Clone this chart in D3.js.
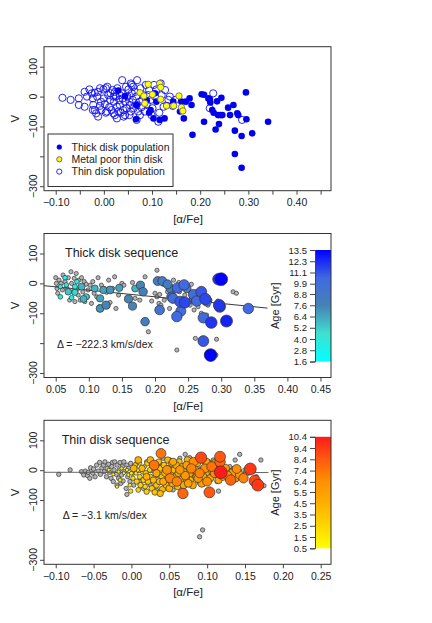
<!DOCTYPE html>
<html>
<head>
<meta charset="utf-8">
<script src="https://cdn.jsdelivr.net/npm/d3@7"></script>
<style>
  body { margin: 0; background: #fff; }
  svg { display: block; font-family: "Liberation Sans", Arial, sans-serif; }
</style>
</head>
<body>
<div id="chart"></div>
<script>
// ---- data: [alpha/Fe, V] or [alpha/Fe, V, age] ----
const thickDisk = [
  [0.030, 20], [0.044, 2], [0.068, -28], [0.067, -76], [0.089, -12], [0.094, -54], [0.097, -45],
  [0.103, -73], [0.106, 11], [0.109, -17], [0.116, -78], [0.126, -73], [0.130, -28], [0.144, -17],
  [0.158, -50], [0.161, -17], [0.166, -73], [0.170, -17], [0.178, -6], [0.182, -28], [0.184, -128],
  [0.203, 8], [0.208, 6], [0.208, -84], [0.217, -6], [0.220, -9], [0.221, -20], [0.225, -45],
  [0.228, -54], [0.232, -110], [0.235, -16], [0.237, -62], [0.239, -92], [0.244, -4], [0.242, -62],
  [0.246, -62], [0.258, -37], [0.262, -62], [0.269, -28], [0.272, -114], [0.272, -192], [0.277, -56],
  [0.279, -62], [0.286, -132], [0.286, -238], [0.295, 14], [0.296, -76], [0.308, -123], [0.341, -84]
];
const poorThinDisk = [
  [0.075, 13], [0.083, 2], [0.085, -23], [0.092, 41], [0.101, 7], [0.116, 44], [0.118, 31],
  [0.118, -9], [0.130, -31], [0.145, -31], [0.156, 2], [0.161, -36], [0.164, -48]
];
const thinDisk = [
  [-0.086, -4], [-0.069, -11], [-0.052, -6], [-0.052, -28], [-0.040, 16], [-0.030, 24], [-0.025, 11],
  [-0.023, -6], [-0.022, -28], [-0.019, -45], [-0.016, -56], [-0.014, 0], [-0.012, 16], [-0.008, -31],
  [-0.005, -45], [-0.001, 24], [0.000, -6], [0.002, -25], [0.004, -54], [0.007, 33], [0.009, 5],
  [0.011, -36], [0.013, -11], [0.016, -45], [0.018, 22], [0.020, -56], [0.021, -17], [0.023, -62],
  [0.025, 0], [0.027, -34], [0.028, 28], [0.030, -50], [0.032, -11], [0.033, -28], [0.037, 11],
  [0.038, 55], [0.040, -45], [0.041, -67], [0.044, -17], [0.046, 33], [0.047, -39], [0.049, 0],
  [0.051, 24], [0.053, -62], [0.054, -28], [0.056, -50], [0.058, 11], [0.060, -11], [0.061, 33],
  [0.062, -39], [0.065, 16], [0.067, 0], [0.069, 55], [0.071, -50], [0.074, -17], [0.076, 28],
  [0.078, -36], [0.082, 5], [0.085, -50], [0.087, 39], [0.089, -25], [0.094, 22], [0.097, -11],
  [0.101, -39], [0.104, 39], [0.106, 0], [0.109, 24], [0.113, -84], [0.115, -54], [0.118, 44],
  [0.120, 5], [0.124, -34], [0.127, 22], [0.134, -11], [0.137, 0], [0.143, -31], [0.148, -11],
  [0.227, 11], [0.220, -39], [0.287, -78], [-0.040, -34], [-0.035, 0], [-0.019, 13], [-0.012, -67],
  [-0.006, -17], [0.004, 28], [0.006, -50], [0.014, 11], [0.023, 16], [0.035, -54], [0.039, -6],
  [0.044, -62], [0.053, -17], [0.058, 39], [0.068, -28], [0.075, -62], [0.080, -11], [0.092, 5],
  [0.099, -62], [-0.023, -45], [-0.008, 28], [0.020, 0], [0.033, 5], [0.056, 44], [0.068, -78],
  [0.027, -73]
];

const thickSeqNoAge = [
  [0.050, 19], [0.051, 0], [0.052, -17], [0.053, -33], [0.055, 11], [0.058, 0], [0.060, -22],
  [0.061, 28], [0.064, 6], [0.067, -17], [0.069, 19], [0.071, -56], [0.073, 39], [0.074, 0],
  [0.076, -28], [0.078, 17], [0.079, -61], [0.081, 33], [0.083, -19], [0.084, -39], [0.085, 11],
  [0.087, -56], [0.088, -11], [0.089, 19], [0.091, -28], [0.093, 6], [0.094, -61], [0.096, -3],
  [0.098, -45], [0.099, -22], [0.102, -6], [0.104, -67], [0.106, 6], [0.108, -33], [0.112, -45],
  [0.114, 19], [0.116, -78], [0.119, -6], [0.123, -17], [0.127, -30], [0.130, 11], [0.132, -64],
  [0.136, -17], [0.139, 22], [0.141, -84], [0.145, -39], [0.147, -11], [0.150, 0], [0.153, -6],
  [0.166, 3], [0.170, -50], [0.177, -56], [0.185, 22], [0.190, -162], [0.195, -59], [0.200, -33],
  [0.203, 44], [0.203, -45], [0.206, -67], [0.207, -37], [0.209, -73], [0.212, -3], [0.214, -56],
  [0.219, -28], [0.222, -84], [0.223, -17], [0.227, -33], [0.228, 11], [0.233, -223], [0.236, 3],
  [0.237, -28], [0.241, -52], [0.242, -78], [0.245, -39], [0.248, -67], [0.250, -22], [0.253, -73],
  [0.255, -3], [0.257, -45], [0.259, -89], [0.261, -184], [0.263, -28], [0.265, -78], [0.268, -59],
  [0.270, -100], [0.272, -39], [0.275, -195], [0.278, -106], [0.280, -73], [0.283, -56],
  [0.292, -240], [0.293, -187], [0.295, -59], [0.300, -78], [0.318, -28], [0.323, -33]
];
const thickSeqAge = [
  [0.064, 19, 3.0], [0.057, -11, 2.5], [0.066, -5, 3.0], [0.069, -28, 5.5], [0.057, -45, 3.0],
  [0.074, -48, 3.0], [0.079, -11, 3.5], [0.079, -30, 5.0], [0.082, 6, 3.0], [0.089, -11, 6.0],
  [0.092, -52, 6.0], [0.096, -45, 5.0], [0.109, -17, 6.0], [0.117, -50, 6.5], [0.117, -84, 7.0],
  [0.122, -22, 6.5], [0.126, -73, 7.5], [0.128, -75, 4.0], [0.132, -22, 7.0], [0.146, -15, 6.5],
  [0.160, -52, 7.5], [0.166, -76, 7.5], [0.170, -17, 6.0], [0.178, -6, 7.5], [0.182, -28, 8.0],
  [0.185, -128, 8.0], [0.204, 8, 8.5], [0.207, -89, 9.5], [0.211, 8, 8.5], [0.219, -3, 8.5],
  [0.223, -17, 8.0], [0.225, -45, 9.5], [0.227, -50, 10.0], [0.233, -111, 10.5], [0.234, -15, 10.5],
  [0.238, -61, 11.0], [0.239, -93, 10.0], [0.244, -5, 10.5], [0.245, -64, 11.5], [0.248, -17, 8.0],
  [0.258, -37, 10.0], [0.259, -52, 9.5], [0.263, -59, 10.5], [0.270, -28, 11.0], [0.273, -115, 10.5],
  [0.273, -193, 11.0], [0.276, -52, 11.5], [0.278, -59, 10.0], [0.285, -131, 12.0], [0.284, -240, 13.5],
  [0.296, 14, 12.0], [0.300, 14, 13.5], [0.297, -73, 12.0], [0.298, -78, 11.5], [0.308, -126, 12.5],
  [0.341, -84, 10.5]
];

const thinSeqNoAge = [
  [-0.096, -14], [-0.081, 1], [-0.066, -5], [-0.063, -16], [-0.061, -3], [-0.058, -18], [-0.057, -7],
  [-0.055, -27], [-0.054, 8], [-0.051, -10], [-0.050, 4], [-0.048, -22], [-0.046, 17], [-0.044, -3],
  [-0.042, 26], [-0.041, -14], [-0.039, 8], [-0.037, 17], [-0.036, -5], [-0.035, 28], [-0.033, -22],
  [-0.032, 6], [-0.030, 20], [-0.029, -7], [-0.027, -27], [-0.026, 12], [-0.025, 26], [-0.024, -38],
  [-0.023, 1], [-0.022, 28], [-0.020, -14], [-0.019, -50], [-0.019, 17], [-0.017, -27], [-0.016, 1],
  [-0.015, 26], [-0.014, -44], [-0.013, -16], [-0.012, 12], [-0.011, -36], [-0.010, 28], [-0.009, -5],
  [-0.007, -61], [-0.006, 17], [-0.005, -22], [-0.004, 6], [-0.006, -81], [-0.002, -38], [-0.001, 23],
  [0.002, -10], [0.003, -50], [0.007, 23], [0.011, -38], [0.016, -61], [0.020, 28], [0.025, -50],
  [0.030, 17], [0.033, -66], [0.038, 23], [0.042, 40], [0.044, -55], [0.051, 34], [0.055, -66],
  [0.060, 17], [0.064, 40], [0.066, -5], [0.071, 53], [0.073, -44], [0.077, 42], [0.083, -16],
  [0.086, 34], [0.090, -223], [0.094, -200], [0.097, 23], [0.102, 28], [0.108, -16], [0.108, 34],
  [0.113, -38], [0.115, -70], [0.117, 40], [0.124, -10], [0.130, 12], [0.135, 6], [0.137, 34],
  [0.143, 53], [0.150, 1], [0.154, -10], [0.161, -3], [0.171, 34], [0.175, -52], [0.165, -22]
];
const thinSeqAge = [
  [0.000, -10, 1.5], [0.002, -27, 2.0], [0.005, 17, 2.5], [0.006, -10, 1.5], [0.007, -38, 3.0],
  [0.008, 1, 2.0], [0.011, -22, 2.5], [0.011, 23, 1.5], [0.012, -50, 3.0], [0.015, -5, 2.5],
  [0.016, -33, 3.0], [0.017, 12, 2.0], [0.018, -55, 2.5], [0.019, -10, 3.0], [0.021, 23, 3.0],
  [0.022, -38, 3.5], [0.024, 1, 2.5], [0.025, -22, 3.0], [0.027, -61, 3.5], [0.028, 17, 3.0],
  [0.029, -33, 4.0], [0.031, 1, 3.0], [0.033, -50, 3.5], [0.034, -16, 3.0], [0.036, 28, 3.5],
  [0.037, -38, 4.0], [0.038, 6, 3.5], [0.040, -22, 3.5], [0.041, -64, 4.0], [0.043, 17, 3.5],
  [0.044, -10, 4.0], [0.046, -50, 4.0], [0.048, 34, 4.0], [0.049, 6, 3.5], [0.050, -61, 4.5],
  [0.052, -10, 4.0], [0.053, 23, 4.0], [0.054, -44, 4.5], [0.056, 1, 4.0], [0.058, -22, 4.0],
  [0.059, 17, 4.5], [0.061, -55, 4.0], [0.062, -10, 4.5], [0.063, 28, 4.0], [0.065, -33, 4.5],
  [0.067, 12, 4.0], [0.069, -50, 5.0], [0.070, -5, 4.0], [0.072, -27, 4.5], [0.074, 34, 4.5],
  [0.077, -10, 5.0], [0.078, -33, 4.0], [0.080, 17, 4.5], [0.081, -50, 5.0], [0.083, 6, 4.5],
  [0.086, -22, 5.0], [0.087, 23, 4.5], [0.091, -38, 5.0], [0.093, 1, 4.5], [0.095, -22, 5.0],
  [0.099, 28, 5.0], [0.099, -10, 4.5], [0.104, -27, 5.0], [0.107, -5, 5.0], [0.110, 23, 5.5],
  [0.115, -33, 5.0], [0.119, 6, 5.5], [0.121, -22, 5.0], [0.126, -5, 5.5], [0.135, -16, 5.5],
  [0.141, -5, 5.0], [-0.006, 1, 1.0], [-0.004, -16, 1.0], [-0.010, -10, 0.8], [-0.013, 6, 1.0],
  [-0.015, -33, 1.5], [-0.017, -5, 0.8], [-0.019, -55, 1.0], [-0.024, -14, 0.8], [-0.030, 1, 0.8],
  [-0.002, -50, 1.5], [-0.001, -70, 2.0], [0.009, -66, 2.5], [0.020, -72, 3.0], [0.031, -74, 3.5],
  [0.038, -78, 4.0],
  [0.003, 6, 4.5], [0.009, 34, 4.5], [0.014, 6, 4.0], [0.020, -22, 4.5], [0.025, 34, 4.5],
  [0.033, -10, 5.0], [0.042, -38, 5.0], [0.055, 28, 5.0], [0.073, 17, 5.5], [0.075, -44, 5.5],
  [0.084, 1, 5.5], [0.093, -44, 5.5], [0.113, 1, 5.5], [0.124, 6, 6.0], [0.133, -10, 6.0],
  [0.137, -27, 5.5], [0.071, -18, 6.0], [0.064, 1, 6.0], [0.051, -27, 7.0], [0.047, 1, 6.5],
  [0.090, -10, 7.0], [0.097, 6, 6.5], [0.088, -27, 6.0], [0.110, -10, 6.5], [0.143, -16, 6.0],
  [0.127, -18, 6.5], [0.148, -27, 7.0], [0.139, 4, 6.5], [0.100, -38, 6.5], [0.106, 12, 7.5],
  [0.079, 6, 7.0], [0.082, 28, 6.5], [0.060, -38, 7.0], [0.068, -78, 8.0], [0.103, -74, 8.5],
  [0.131, -33, 8.0], [0.039, 56, 7.5], [0.030, 17, 7.5], [0.117, 28, 8.0], [0.117, 45, 8.5],
  [0.092, 42, 9.0], [0.157, 4, 9.5], [0.163, -36, 9.0], [0.167, -50, 9.5], [0.118, -7, 10.4]
];

const thickAgeTicks = [1.6, 2.8, 4.0, 5.2, 6.4, 7.6, 8.8, 9.9, 11.1, 12.3, 13.5];
const thinAgeTicks = [0.5, 1.5, 2.5, 3.5, 4.5, 5.5, 6.4, 7.4, 8.4, 9.4, 10.4];
const thickColors = ["#00ffff", "#40e0d0", "#4682b4", "#4169e1", "#0000ff"];
const thinColors = ["#ffff00", "#ffd700", "#ffb000", "#ff9000", "#ff5a10", "#ff1a1a"];
// fitted lines: [intercept, slope, alpha at right end]
const thickFit = [-0.5, -222.3, 0.37];
const thinFit = [-7.3, -3.1, 0.181];

const vTicks = [100, 0, -100, -200, -300];
const vLabels = [100, 0, -100, -300];

// ---- layout ----
const width = 432, height = 623;
const left = 44, right = 331, boxH = 144;
const tops = [46.7, 233.5, 420.3];

const svg = d3.select('#chart').append('svg')
  .attr('width', width)
  .attr('height', height);

function frame(top, xDomain, xTicks, xLabelEvery) {
  const x = d3.scaleLinear().domain(xDomain).range([left, right]);
  const y = d3.scaleLinear().domain([-315, 167]).range([top + boxH, top]);
  const g = svg.append('g');
  const fmt = d3.format('.2f');

  const xAxis = d3.axisBottom(x)
    .tickValues(xTicks)
    .tickSize(4)
    .tickPadding(4)
    .tickFormat((d, i) => (i % xLabelEvery === 0 ? fmt(d) : ''));
  g.append('g')
    .attr('transform', `translate(0,${top + boxH})`)
    .call(xAxis)
    .call((s) => s.select('.domain').remove())
    .call((s) => s.selectAll('text').attr('font-size', 10.5).attr('fill', '#222')
      .attr('font-family', '"Liberation Sans", Arial, sans-serif'))
    .call((s) => s.selectAll('line').attr('stroke', '#444'));

  const yAxis = d3.axisLeft(y).tickValues(vTicks).tickSize(4).tickFormat('');
  g.append('g')
    .attr('transform', `translate(${left},0)`)
    .call(yAxis)
    .call((s) => s.select('.domain').remove())
    .call((s) => s.selectAll('line').attr('stroke', '#444'));

  g.selectAll('.vlab')
    .data(vLabels)
    .join('text')
    .attr('transform', (d) => `translate(36.5,${y(d)}) rotate(-90)`)
    .attr('text-anchor', 'middle')
    .attr('font-size', 10.5)
    .attr('fill', '#222')
    .text((d) => d3.format('d')(d));

  g.append('text')
    .attr('transform', `translate(18.5,${top + boxH / 2}) rotate(-90)`)
    .attr('text-anchor', 'middle')
    .attr('font-size', 11.5)
    .attr('fill', '#222')
    .text('V');

  g.append('text')
    .attr('x', (left + right) / 2 + 0.5)
    .attr('y', top + boxH + 32)
    .attr('text-anchor', 'middle')
    .attr('font-size', 11.5)
    .attr('fill', '#222')
    .text('[α/Fe]');

  return { x, y, g, top };
}

function box(top) {
  svg.append('rect')
    .attr('x', left)
    .attr('y', top)
    .attr('width', right - left)
    .attr('height', boxH)
    .attr('fill', 'none')
    .attr('stroke', '#333')
    .attr('stroke-width', 1);
}

function dots(p, data, r, fill, stroke, sw) {
  p.g.append('g')
    .selectAll('circle')
    .data(data)
    .join('circle')
    .attr('cx', (d) => p.x(d[0]))
    .attr('cy', (d) => p.y(d[1]))
    .attr('r', r)
    .attr('fill', fill)
    .attr('stroke', stroke)
    .attr('stroke-width', sw);
}

function fitLine(p, fit, color) {
  const [a, b, xEnd] = fit;
  const xs = [p.x.domain()[0], xEnd];
  p.g.append('line')
    .attr('x1', p.x(xs[0]))
    .attr('y1', p.y(a + b * xs[0]))
    .attr('x2', p.x(xs[1]))
    .attr('y2', p.y(a + b * xs[1]))
    .attr('stroke', color)
    .attr('stroke-width', 0.9);
}

function colorBar(p, ticks, color, id) {
  const top = p.top + 16.5, bottom = p.top + boxH - 16;
  const ay = d3.scaleLinear().domain([ticks[0], ticks[ticks.length - 1]]).range([bottom, top]);
  const grad = svg.append('defs').append('linearGradient')
    .attr('id', id)
    .attr('x1', 0).attr('y1', 1).attr('x2', 0).attr('y2', 0);
  d3.range(0, 1.0001, 0.05).forEach((t) => {
    grad.append('stop')
      .attr('offset', t)
      .attr('stop-color', color(ticks[0] + t * (ticks[ticks.length - 1] - ticks[0])));
  });
  p.g.append('rect')
    .attr('x', 315)
    .attr('y', top)
    .attr('width', right - 315)
    .attr('height', bottom - top)
    .attr('fill', `url(#${id})`);
  const ax = d3.axisLeft(ay).tickValues(ticks).tickSize(5).tickPadding(3)
    .tickFormat(d3.format('.1f'));
  p.g.append('g')
    .attr('transform', 'translate(315,0)')
    .call(ax)
    .call((s) => s.select('.domain').attr('stroke', '#444'))
    .call((s) => s.selectAll('line').attr('stroke', '#444'))
    .call((s) => s.selectAll('text').attr('font-size', 9.5).attr('fill', '#222')
      .attr('font-family', '"Liberation Sans", Arial, sans-serif'));
  p.g.append('text')
    .attr('transform', `translate(279,${(top + bottom) / 2}) rotate(-90)`)
    .attr('text-anchor', 'middle')
    .attr('font-size', 11)
    .attr('fill', '#222')
    .text('Age [Gyr]');
}

function label(p, x, dy, txt, size) {
  p.g.append('text')
    .attr('x', x)
    .attr('y', p.top + dy)
    .attr('font-size', size)
    .attr('fill', '#222')
    .text(txt);
}

// ---- panel 1: populations ----
const p1 = frame(tops[0], [-0.1243, 0.4716], d3.range(-0.10, 0.4501, 0.05), 2);
box(tops[0]);
dots(p1, thinDisk, 3.6, 'none', '#1010ee', 0.9);
dots(p1, thickDisk, 3.3, '#0000ee', 'none', 0);
dots(p1, poorThinDisk, 3.2, '#ffff00', '#5a5a7a', 0.8);

const legend = p1.g.append('g');
legend.append('rect')
  .attr('x', 48).attr('y', 134)
  .attr('width', 125).attr('height', 52.5)
  .attr('fill', '#fff')
  .attr('stroke', '#333');
const legendItems = [
  ['Thick disk population', '#0000ee', 'none'],
  ['Metal poor thin disk', '#ffff00', '#5a5a7a'],
  ['Thin disk population', 'none', '#1010ee']
];
legendItems.forEach((it, i) => {
  const cy = 147 + i * 12.3;
  legend.append('circle')
    .attr('cx', 59.3).attr('cy', cy).attr('r', 2.6)
    .attr('fill', it[1]).attr('stroke', it[2]).attr('stroke-width', 0.9);
  legend.append('text')
    .attr('x', 71.5).attr('y', cy + 3.8)
    .attr('font-size', 10.5)
    .attr('fill', '#222')
    .text(it[0]);
});

// ---- panel 2: thick disk sequence ----
const thickColor = d3.scaleLinear()
  .domain(d3.range(thickColors.length).map((i) => 1.6 + i * (13.5 - 1.6) / (thickColors.length - 1)))
  .range(thickColors);
const p2 = frame(tops[1], [0.0323, 0.4659], d3.range(0.05, 0.4501, 0.05), 1);
dots(p2, thickSeqNoAge, 2.1, '#b4b4b4', '#333', 0.7);
fitLine(p2, thickFit, '#222');
const thickSorted = thickSeqAge.slice().sort((a, b) => a[2] - b[2]);
p2.g.append('g')
  .selectAll('circle')
  .data(thickSorted)
  .join('circle')
  .attr('cx', (d) => p2.x(d[0]))
  .attr('cy', (d) => p2.y(d[1]))
  .attr('r', (d) => 1.2 + 5.2 * d[2] / 13.5)
  .attr('fill', (d) => thickColor(d[2]))
  .attr('stroke', '#333')
  .attr('stroke-width', 0.7);
colorBar(p2, thickAgeTicks, thickColor, 'gradThick');
box(tops[1]);
label(p2, 65, 23.5, 'Thick disk sequence', 12.5);
label(p2, 57, 114, 'Δ = −222.3 km/s/dex', 10.5);

// ---- panel 3: thin disk sequence ----
const thinColor = d3.scaleLinear()
  .domain(d3.range(thinColors.length).map((i) => 0.5 + i * (10.4 - 0.5) / (thinColors.length - 1)))
  .range(thinColors);
const p3 = frame(tops[2], [-0.1155, 0.2636], d3.range(-0.10, 0.2501, 0.05), 1);
dots(p3, thinSeqNoAge, 2.2, '#b4b4b4', '#333', 0.7);
fitLine(p3, thinFit, '#555');
const thinSorted = thinSeqAge.slice().sort((a, b) => a[2] - b[2]);
p3.g.append('g')
  .selectAll('circle')
  .data(thinSorted)
  .join('circle')
  .attr('cx', (d) => p3.x(d[0]))
  .attr('cy', (d) => p3.y(d[1]))
  .attr('r', (d) => 1.2 + 5.2 * d[2] / 10.4)
  .attr('fill', (d) => thinColor(d[2]))
  .attr('stroke', '#333')
  .attr('stroke-width', 0.7);
colorBar(p3, thinAgeTicks, thinColor, 'gradThin');
box(tops[2]);
label(p3, 61.7, 23.5, 'Thin disk sequence', 12.5);
label(p3, 62.7, 98.7, 'Δ = −3.1 km/s/dex', 10.5);
</script>
</body>
</html>
